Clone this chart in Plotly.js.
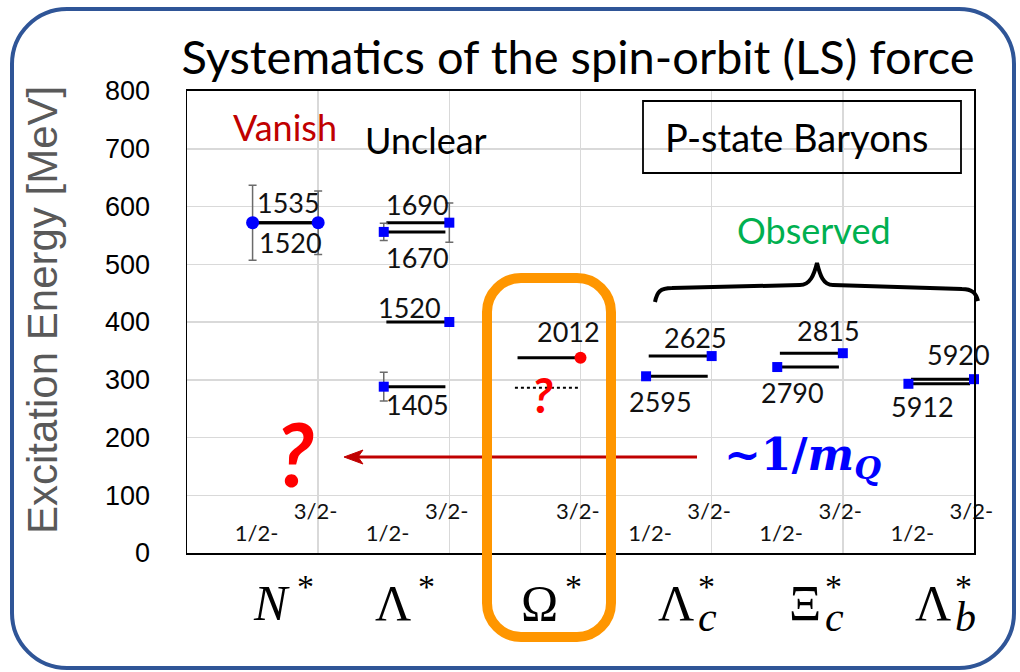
<!DOCTYPE html>
<html>
<head>
<meta charset="utf-8">
<script src="https://cdn.plot.ly/plotly-3.0.1.min.js"></script>
<style>
  html, body { margin: 0; padding: 0; background: #ffffff; }
  #chart { width: 1020px; height: 672px; }
</style>
</head>
<body>
<div id="chart"></div>
<script>
// Baryon families along the x axis (each family spans one unit: 1/2- at k+0.5, 3/2- at k+1)
const categorySymbols = ['N', 'Λ', 'Ω', 'Λ', 'Ξ', 'Λ'];
const categoryItalic  = [true, false, false, false, false, false];
const categorySubs    = ['', '', '', 'c', 'c', 'b'];

// P-wave levels: family index, spin-parity, mass [MeV], excitation energy [MeV], error [MeV]
const levelCategory = [0, 0, 1, 1, 1, 1, 2, 3, 3, 4, 4, 5, 5];
const levelSpin     = ['1/2-', '3/2-', '1/2-', '3/2-', '1/2-', '3/2-', '3/2-', '1/2-', '3/2-', '1/2-', '3/2-', '1/2-', '3/2-'];
const levelMass     = [1535, 1520, 1670, 1690, 1405, 1520, 2012, 2595, 2625, 2790, 2815, 5912, 5920];
const levelEnergy   = [572, 572, 556, 572, 288, 400, 338, 306, 341, 322, 346, 293, 301];
const levelError    = [65, 55, 15, 34, 25, 0, 0, 0, 0, 0, 0, 0, 0];

// Unknown Ω* 1/2- partner (dotted guess)
const omegaGuessCategory = 2;
const omegaGuessEnergy = 286;

// Spin-parity labels along the bottom of each family
const spinLabelCategories12 = [0, 1, 3, 4, 5];
const spinLabelCategories32 = [0, 1, 2, 3, 4, 5];
const spinLabel12Energy = 31;
const spinLabel32Energy = 69;

const yTickValues = [0, 100, 200, 300, 400, 500, 600, 700, 800];

// ---- plot-area geometry (px) used for the decorative overlay shapes ----
const W = 1020, H = 672;
const M = { l: 187, r: 46, t: 91, b: 119 };
const PW = W - M.l - M.r, PH = H - M.t - M.b;
const px = v => (v - M.l) / PW;
const py = v => (H - M.b - v) / PH;
const P = (x, y) => px(x).toFixed(5) + ',' + py(y).toFixed(5);

function roundedRect(x0, y0, x1, y1, r) {
  const k = 0.5523 * r;
  return 'M' + P(x0 + r, y0) +
    ' L' + P(x1 - r, y0) +
    ' C' + P(x1 - r + k, y0) + ' ' + P(x1, y0 + r - k) + ' ' + P(x1, y0 + r) +
    ' L' + P(x1, y1 - r) +
    ' C' + P(x1, y1 - r + k) + ' ' + P(x1 - r + k, y1) + ' ' + P(x1 - r, y1) +
    ' L' + P(x0 + r, y1) +
    ' C' + P(x0 + r - k, y1) + ' ' + P(x0, y1 - r + k) + ' ' + P(x0, y1 - r) +
    ' L' + P(x0, y0 + r) +
    ' C' + P(x0, y0 + r - k) + ' ' + P(x0 + r - k, y0) + ' ' + P(x0 + r, y0) + ' Z';
}

// ---- level lines ----
const spinX = (k, s) => (s === '1/2-' ? k + 0.5 : k + 1.0);
const lineX = [], lineY = [];
levelEnergy.forEach((e, i) => {
  const k = levelCategory[i];
  const x0 = levelSpin[i] === '1/2-' ? k + 0.5 : k + 0.52;
  const x1 = levelSpin[i] === '1/2-' ? k + 0.97 : k + 1.0;
  lineX.push(x0, x1, null);
  lineY.push(e, e, null);
});

const levelLines = {
  x: lineX, y: lineY, type: 'scatter', mode: 'lines',
  line: { color: '#000000', width: 3 }, hoverinfo: 'skip', showlegend: false
};

const guessLine = {
  x: [omegaGuessCategory + 0.5, omegaGuessCategory + 0.98],
  y: [omegaGuessEnergy, omegaGuessEnergy],
  type: 'scatter', mode: 'lines',
  line: { color: '#000000', width: 2, dash: 'dot' }, hoverinfo: 'skip', showlegend: false
};

const markerSymbol = levelCategory.map(k => (k === 0 || k === 2) ? 'circle' : 'square');
const markerColor  = levelCategory.map(k => k === 2 ? '#ff0000' : '#0000ff');
const markerSize   = levelCategory.map(k => k === 0 ? 13 : (k === 2 ? 12 : 10));

const levelMarkers = {
  x: levelEnergy.map((e, i) => spinX(levelCategory[i], levelSpin[i])),
  y: levelEnergy,
  type: 'scatter', mode: 'markers',
  marker: { symbol: markerSymbol, color: markerColor, size: markerSize, opacity: 1, line: { width: 0 } },
  error_y: { type: 'data', array: levelError, visible: true, color: '#6b6b6b', thickness: 1.5, width: 4 },
  text: levelMass.map(m => String(m)), hoverinfo: 'text', showlegend: false, cliponaxis: false
};

const spinLabels = {
  x: spinLabelCategories12.map(k => k + 0.53).concat(spinLabelCategories32.map(k => k + 0.98)),
  y: spinLabelCategories12.map(() => spinLabel12Energy).concat(spinLabelCategories32.map(() => spinLabel32Energy)),
  text: spinLabelCategories12.map(() => '1/2-').concat(spinLabelCategories32.map(() => '3/2-')),
  type: 'scatter', mode: 'text', textposition: 'middle center',
  textfont: { family: 'Lato, sans-serif', size: 22, color: '#111111' },
  hoverinfo: 'skip', showlegend: false, cliponaxis: false
};

// ---- mass labels next to each level (x in axis units, vertical nudge in px) ----
const massLabelX  = [0.77, 0.79, 1.76, 1.76, 1.76, 1.70, 2.91, 3.61, 3.88, 4.62, 4.89, 5.61, 5.88];
const massLabelDy = [20, -20, -26, 18, -18, 15, 26, -25, 19, -25, 23, -23, 25];

const annotations = [];
levelMass.forEach((m, i) => {
  annotations.push({
    x: massLabelX[i], y: levelEnergy[i], xref: 'x', yref: 'y', yshift: massLabelDy[i],
    text: String(m), showarrow: false, xanchor: 'center', yanchor: 'middle',
    font: { family: 'Lato, sans-serif', size: 27, color: '#111111' }
  });
});

// Family names under the axis
const catAnchorX = [0.80, 1.72, 2.84, 3.88, 4.85, 5.84];
categorySymbols.forEach((s, k) => {
  annotations.push({
    x: catAnchorX[k], y: py(603), xref: 'x', yref: 'paper', xanchor: 'right', yanchor: 'middle',
    text: categoryItalic[k] ? '<i>' + s + '</i>' : s, showarrow: false,
    font: { family: 'Liberation Serif, serif', size: 50, color: '#000000' }
  });
  annotations.push({
    x: catAnchorX[k], y: py(586), xref: 'x', yref: 'paper', xanchor: 'left', yanchor: 'middle',
    xshift: categorySubs[k] ? 0 : 3,
    text: '*', showarrow: false,
    font: { family: 'Liberation Serif, serif', size: 34, color: '#000000' }
  });
  if (categorySubs[k]) {
    annotations.push({
      x: catAnchorX[k], y: py(617), xref: 'x', yref: 'paper', xanchor: 'left', yanchor: 'middle',
      text: '<i>' + categorySubs[k] + '</i>', showarrow: false,
      font: { family: 'Liberation Serif, serif', size: 42, color: '#000000' }
    });
  }
});

// Category notes
annotations.push(
  { x: 0.75, y: 738, xref: 'x', yref: 'y', text: 'Vanish', showarrow: false,
    font: { family: 'Lato, sans-serif', size: 36, color: '#c00000' } },
  { x: 1.82, y: 715, xref: 'x', yref: 'y', text: 'Unclear', showarrow: false,
    font: { family: 'Lato, sans-serif', size: 36, color: '#000000' } },
  { x: 4.78, y: 559, xref: 'x', yref: 'y', text: 'Observed', showarrow: false,
    font: { family: 'Lato, sans-serif', size: 36, color: '#00b050' } },
  { x: px(796), y: py(137), xref: 'paper', yref: 'paper', xanchor: 'center', yanchor: 'middle',
    text: 'P-state Baryons', showarrow: false,
    font: { family: 'Lato, sans-serif', size: 38, color: '#000000' } },
  { x: 2.71, y: 274, xref: 'x', yref: 'y', text: '<b><i>?</i></b>', showarrow: false,
    font: { family: 'Lato, sans-serif', size: 48, color: '#ff0000' } },
  { x: 0.82, y: 173, xref: 'x', yref: 'y', text: '<b><i>?</i></b>', showarrow: false,
    font: { family: 'Lato, sans-serif', size: 88, color: '#ff0000' } },
  { x: 4.69, y: 166, xref: 'x', yref: 'y', text: '<b>~1/<i>m</i><sub><i>Q</i></sub></b>', showarrow: false,
    font: { family: 'DejaVu Serif, serif', size: 44, color: '#0000ff' } },
  { x: px(42), y: py(310), xref: 'paper', yref: 'paper', xanchor: 'center', yanchor: 'middle',
    text: 'Excitation Energy [MeV]', textangle: -90,
    showarrow: false, font: { family: 'Liberation Sans, Arial, sans-serif', size: 42, color: '#595959' } }
);

// ---- overlay shapes ----
const shapes = [
  // 1/m_Q arrow
  { type: 'line', xref: 'paper', yref: 'paper', x0: px(697), y0: py(457), x1: px(356), y1: py(457),
    line: { color: '#c00000', width: 3 } },
  { type: 'path', xref: 'paper', yref: 'paper',
    path: 'M' + P(344, 457) + ' L' + P(363, 450) + ' L' + P(358, 457) + ' L' + P(363, 464) + ' Z',
    fillcolor: '#c00000', line: { color: '#c00000', width: 1 } },
  // legend-like frame
  { type: 'rect', xref: 'paper', yref: 'paper', x0: px(643), y0: py(101), x1: px(961), y1: py(173),
    line: { color: '#000000', width: 1.8 } },
  // brace over the heavy baryons
  { type: 'path', xref: 'paper', yref: 'paper',
    path: 'M' + P(655, 302) + ' C' + P(657, 292) + ' ' + P(660, 288) + ' ' + P(672, 288) +
          ' L' + P(800, 285) + ' C' + P(810, 285) + ' ' + P(814, 275) + ' ' + P(817, 263) +
          ' C' + P(820, 275) + ' ' + P(823, 285) + ' ' + P(833, 285) +
          ' L' + P(962, 289) + ' C' + P(972, 289) + ' ' + P(976, 293) + ' ' + P(978, 301),
    line: { color: '#000000', width: 4 } },
  // Ω* highlight
  { type: 'path', xref: 'paper', yref: 'paper', path: roundedRect(487, 278, 611, 637, 34),
    line: { color: '#ff9600', width: 10 } },
  // outer frame
  { type: 'path', xref: 'paper', yref: 'paper', path: roundedRect(12, 9, 1014, 668, 55),
    line: { color: '#2f5597', width: 4 } }
];

const layout = {
  width: W, height: H,
  margin: M,
  paper_bgcolor: '#ffffff', plot_bgcolor: '#ffffff',
  showlegend: false,
  title: {
    text: 'Systematics of the spin-orbit (LS) force',
    x: 578 / W, xanchor: 'center',
    y: 1 - 58 / H, yanchor: 'middle',
    font: { family: 'Lato, sans-serif', size: 47, color: '#000000' }
  },
  xaxis: {
    range: [0, 6], dtick: 1, tick0: 0, showticklabels: false, ticks: '',
    showgrid: true, gridcolor: '#d9d9d9', gridwidth: 1.5, zeroline: false,
    showline: true, linecolor: '#000000', linewidth: 2, mirror: true, fixedrange: true
  },
  yaxis: {
    range: [0, 800], tickvals: yTickValues, ticktext: yTickValues.map(String), ticks: '',
    ticklabelstandoff: 30,
    tickfont: { family: 'Liberation Sans, Arial, sans-serif', size: 27, color: '#000000' },
    showgrid: true, gridcolor: '#d9d9d9', gridwidth: 1.5, zeroline: false,
    showline: true, linecolor: '#000000', linewidth: 1.5, mirror: true, fixedrange: true
  },
  annotations: annotations,
  shapes: shapes
};

Plotly.newPlot('chart', [levelLines, guessLine, levelMarkers, spinLabels], layout,
  { displayModeBar: false, staticPlot: true });
</script>
</body>
</html>
